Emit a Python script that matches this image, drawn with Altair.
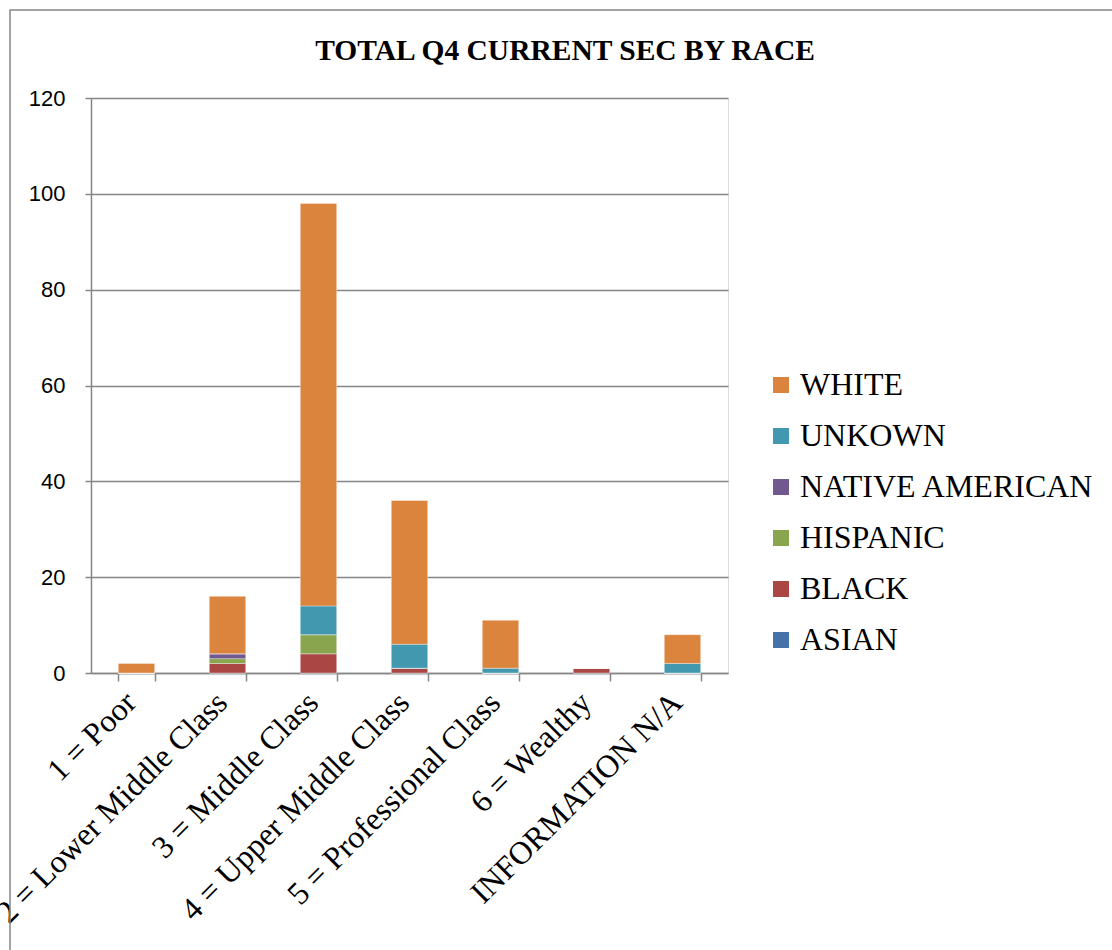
import altair as alt
import pandas as pd

categories = ["1 = Poor", "2 = Lower Middle Class", "3 = Middle Class",
              "4 = Upper Middle Class", "5 = Professional Class",
              "6 = Wealthy", "INFORMATION N/A"]
races = ["ASIAN", "BLACK", "HISPANIC", "NATIVE AMERICAN", "UNKOWN", "WHITE"]
asian = [0, 0, 0, 0, 0, 0, 0]
black = [0, 2, 4, 1, 0, 1, 0]
hispanic = [0, 1, 4, 0, 0, 0, 0]
native = [0, 1, 0, 0, 0, 0, 0]
unknown = [0, 0, 6, 5, 1, 0, 2]
white = [2, 12, 84, 30, 10, 0, 6]
colors = ["#4572A7", "#AA4643", "#89A54E", "#71588F", "#4198AF", "#DB843D"]
title_text = "TOTAL Q4 CURRENT SEC BY RACE"

series = [asian, black, hispanic, native, unknown, white]
rows = []
for ri, (race, vals) in enumerate(zip(races, series)):
    for c, v in zip(categories, vals):
        rows.append({"cat": c, "race": race, "value": v, "order": ri})
df = pd.DataFrame(rows)

legend_order = races[::-1]
legend_colors = colors[::-1]

bars = alt.Chart(df).mark_bar(stroke="#ffffff", strokeWidth=0.6, strokeOpacity=0.6).encode(
    x=alt.X("cat:N", sort=categories, title=None,
            scale=alt.Scale(paddingInner=0.6, paddingOuter=0.3),
            axis=alt.Axis(labelAngle=-45, labelAlign="right", labelBaseline="middle",
                          labelFont="Liberation Serif", labelFontSize=32, labelColor="#000000",
                          labelPadding=16, labelOffset=-6, tickBand="extent", tickSize=8,
                          tickColor="#868686", tickWidth=1.5, domainColor="#868686",
                          domainWidth=1.5, labelOverlap=False, labelLimit=0)),
    y=alt.Y("value:Q", stack="zero", title=None,
            scale=alt.Scale(domain=[0, 120], nice=False),
            axis=alt.Axis(values=[0, 20, 40, 60, 80, 100, 120], labelFont="Liberation Sans",
                          labelFontSize=22, labelColor="#000000", labelPadding=20,
                          tickSize=6, tickColor="#868686", tickWidth=1.5,
                          domainColor="#868686", domainWidth=1.5,
                          grid=True, gridColor="#868686", gridWidth=1.5)),
    color=alt.Color("race:N", scale=alt.Scale(domain=legend_order, range=legend_colors),
                    title=None,
                    legend=alt.Legend(orient="none", legendX=674, legendY=271,
                                      symbolType="square", symbolSize=256,
                                      symbolStrokeWidth=0, labelFont="Liberation Serif",
                                      labelFontSize=32, labelColor="#000000",
                                      rowPadding=19, labelOffset=3, labelLimit=0)),
    order=alt.Order("order:Q", sort="ascending"),
)

frame = alt.Chart(pd.DataFrame({"a": [0]})).mark_rect(
    fill=None, stroke="#868686", strokeWidth=1.5, clip=False
).encode(x=alt.value(-81), x2=alt.value(1040), y=alt.value(-88), y2=alt.value(880))

title = alt.Chart(pd.DataFrame({"t": [title_text]})).mark_text(
    font="Liberation Serif", fontSize=29.5, fontWeight="bold", color="#000000",
    align="center", baseline="alphabetic"
).encode(text="t:N", x=alt.value(474), y=alt.value(-38))

chart = alt.layer(frame, bars, title).properties(
    width=637, height=575,
    autosize="none",
    padding={"left": 91, "top": 98, "right": 384, "bottom": 277},
).configure_view(stroke=None).configure(background="#ffffff")

chart.save("out.html", embed_options={"renderer": "svg", "actions": False})
